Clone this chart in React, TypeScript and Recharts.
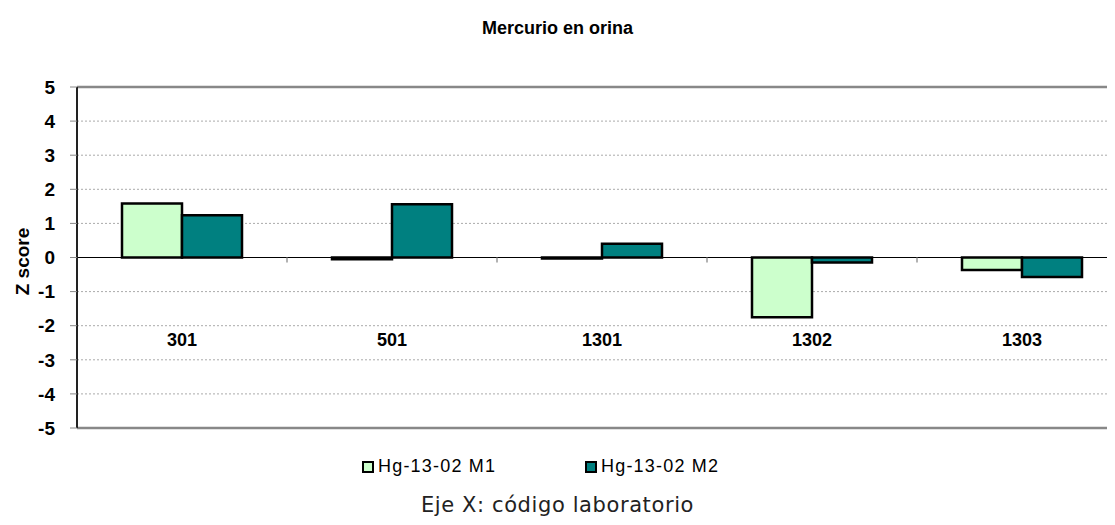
import { Bar, BarChart, CartesianGrid, ReferenceLine, XAxis, YAxis } from "recharts";

const laboratorios = ["301", "501", "1301", "1302", "1303"];
const serieM1 = [1.58, -0.05, -0.03, -1.75, -0.37];
const serieM2 = [1.24, 1.56, 0.4, -0.15, -0.57];
const ticksY = [-5, -4, -3, -2, -1, 0, 1, 2, 3, 4, 5];
const nomeM1 = "Hg-13-02 M1";
const nomeM2 = "Hg-13-02 M2";
const corM1 = "#CCFFCC";
const corM2 = "#008080";

const dados = laboratorios.map((lab, i) => ({ lab, m1: serieM1[i], m2: serieM2[i] }));
// marcas pequenas sobre o zero, no início de cada categoria (menos a primeira)
const fronteiras = laboratorios.slice(1);

const fonte = "'Liberation Sans', Arial, sans-serif";

function TickCategoria({ x, y, payload }: any) {
    return (
        <text x={x} y={y - 88} textAnchor="middle" dominantBaseline="central"
            fontFamily={fonte} fontWeight="bold" fontSize={18} fill="#000">
            {payload.value}
        </text>
    );
}

function RotuloZ({ viewBox }: any) {
    const cy = viewBox.y + viewBox.height / 2 + 4;
    return (
        <text x={14} y={cy} transform={`rotate(-90 14 ${cy})`} textAnchor="middle" dominantBaseline="central"
            fontFamily={fonte} fontWeight="bold" fontSize={19} fill="#000">
            Z score
        </text>
    );
}

function ItemLegenda({ cor, nome, left }: { cor: string; nome: string; left: number }) {
    return (
        <div style={{ position: "absolute", left, top: 448, display: "flex", alignItems: "center" }}>
            <div style={{ width: 8, height: 8, background: cor, border: "2px solid #000", marginRight: 4 }} />
            <span style={{ fontFamily: fonte, fontSize: 18, letterSpacing: 1.2, color: "#000" }}>{nome}</span>
        </div>
    );
}

export default function App() {
    return (
        <div style={{ position: "relative", width: 1107, height: 517, overflow: "hidden", background: "#fff" }}>
            <div style={{ position: "absolute", left: 0, width: 1099, top: 10, textAlign: "center",
                fontFamily: fonte, fontWeight: "bold", fontSize: 18 }}>
                Mercurio en orina
            </div>
            <BarChart width={1125} height={517} data={dados} barCategoryGap={45} barGap={0}
                margin={{ top: 79, right: 6, bottom: 67, left: 29 }}>
                <CartesianGrid vertical={false} stroke="#aaa" strokeDasharray="2 2" />
                <XAxis dataKey="lab" height={30} tickSize={0} tickMargin={0} tickLine={false}
                    axisLine={{ stroke: "#888", strokeWidth: 2.5 }} tick={<TickCategoria />} />
                <YAxis domain={[-5, 5]} ticks={ticksY} width={40} tickSize={7} tickMargin={15}
                    axisLine={{ stroke: "#222", strokeWidth: 2 }} tickLine={{ stroke: "#888" }}
                    tick={{ fontFamily: fonte, fontWeight: "bold", fontSize: 19, fill: "#000" }}
                    label={{ content: <RotuloZ /> }} />
                <ReferenceLine y={5} stroke="#888" strokeWidth={2.5} />
                <ReferenceLine y={0} stroke="#000" strokeWidth={1.2} />
                {fronteiras.map((lab) => (
                    <ReferenceLine key={lab} position="start" segment={[{ x: lab, y: 0 }, { x: lab, y: -0.15 }]}
                        stroke="#999" strokeWidth={1.5} />
                ))}
                <Bar dataKey="m1" name={nomeM1} fill={corM1} stroke="#000" strokeWidth={2.5} isAnimationActive={false} />
                <Bar dataKey="m2" name={nomeM2} fill={corM2} stroke="#000" strokeWidth={2.5} isAnimationActive={false} />
            </BarChart>
            <ItemLegenda cor={corM1} nome={nomeM1} left={354} />
            <ItemLegenda cor={corM2} nome={nomeM2} left={577} />
            <div style={{ position: "absolute", left: 0, width: 1099, top: 485, textAlign: "center",
                fontFamily: "'DejaVu Sans', sans-serif", fontSize: 21, letterSpacing: 0.6, color: "#222" }}>
                Eje X: código laboratorio
            </div>
        </div>
    );
}
